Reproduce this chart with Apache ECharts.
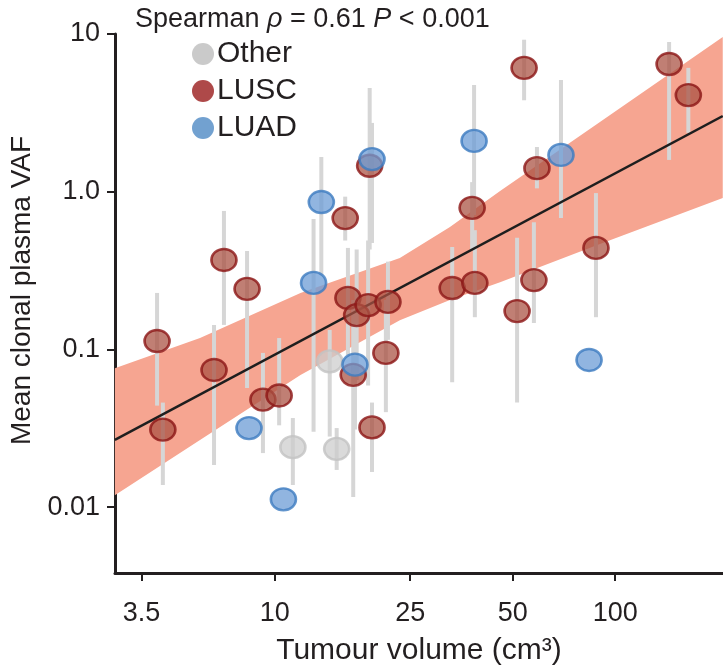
<!DOCTYPE html>
<html>
<head>
<meta charset="utf-8">
<script src="https://cdn.jsdelivr.net/npm/echarts@6/dist/echarts.min.js"></script>
<style>
html, body { margin: 0; padding: 0; background: #fff; }
#chart { width: 723px; height: 671px; }
</style>
</head>
<body>
<div id="chart"></div>
<script>
// tumour volume (cm3) and mean clonal plasma VAF, with error bar ends
var luscVol  = [4.51, 4.69, 7.09, 8.29, 6.63, 9.23, 10.3, 16.1, 16.4, 17.4, 18.8, 19.0, 21.5, 21.2, 17.0, 19.3, 33.2, 38.0, 38.7, 51.5, 57.7, 54.0, 58.9, 87.8, 144, 164];
var luscVaf  = [0.113, 0.031, 0.369, 0.242, 0.074, 0.048, 0.051, 0.68, 0.212, 0.165, 0.191, 1.46, 0.200, 0.095, 0.069, 0.032, 0.245, 0.79, 0.264, 0.175, 0.275, 6.1, 1.41, 0.44, 6.45, 4.1];
var luscLow  = [0.044, 0.0138, 0.143, 0.057, 0.0185, 0.022, 0.033, 0.49, 0.092, 0.064, 0.059, 0.43, 0.115, 0.040, 0.0116, 0.0167, 0.062, 0.43, 0.16, 0.046, 0.147, 3.8, 1.05, 0.16, 1.59, 2.36];
var luscHigh = [0.228, 0.046, 0.755, 0.42, 0.143, 0.095, 0.118, 0.93, 0.44, 0.43, 0.49, 4.55, 0.36, 0.206, 0.206, 0.046, 0.446, 1.15, 0.57, 0.51, 0.64, 9.2, 1.92, 0.98, 8.9, 6.1];

var luadVol  = [13.7, 13.0, 19.3, 38.5, 69.3, 17.2, 8.40, 10.6, 83.8];
var luadVaf  = [0.86, 0.264, 1.61, 2.10, 1.71, 0.080, 0.0317, 0.0112, 0.0857];
var luadLow  = [0.296, 0.030, 0.473, 0.711, 0.681, 0.031, null, null, null];
var luadHigh = [1.66, 0.671, 2.73, 4.75, 5.11, 0.206, null, null, null];

var otherVol  = [14.5, 11.3, 15.2];
var otherVaf  = [0.084, 0.024, 0.0234];
var otherLow  = [0.028, 0.0138, 0.0172];
var otherHigh = [0.133, 0.0367, 0.0317];

// regression line and its confidence band
var fitVol = [3.39, 207];
var fitVaf = [0.0267, 3.02];
var bandVol  = [3.39, 6.03, 11.9, 23.3, 32.7, 45.9, 90.2, 207];
var bandUp   = [0.076, 0.118, 0.228, 0.380, 0.597, 1.01, 2.77, 9.57];
var bandLow  = [0.0119, 0.0266, 0.0689, 0.153, 0.206, 0.267, 0.466, 0.912];

// axis ticks (3.5 sits where the original figure draws it)
var xTicks = [4.06, 10, 25, 50, 100];
var xTickLabels = ['3.5', '10', '25', '50', '100'];
var yTicks = [0.01, 0.1, 1, 10];
var yTickLabels = ['0.01', '0.1', '1.0', '10'];

var FONT = '"Liberation Sans", Arial, Helvetica, sans-serif';
var INK = '#231f20';

function lg(v) { return Math.log10(v); }

function pts(vol, vaf) {
  return vol.map(function (v, i) { return [lg(v), lg(vaf[i])]; });
}

function bars(vol, low, high) {
  var out = [];
  vol.forEach(function (v, i) {
    if (low[i] == null) return;
    out.push([lg(v), lg(low[i]), lg(high[i])]);
  });
  return out;
}

function tickLabel(ticks, labels) {
  return function (val) {
    for (var i = 0; i < ticks.length; i++) {
      if (Math.abs(lg(ticks[i]) - val) < 1e-6) return labels[i];
    }
    return '';
  };
}

var allBars = bars(otherVol, otherLow, otherHigh)
  .concat(bars(luscVol, luscLow, luscHigh))
  .concat(bars(luadVol, luadLow, luadHigh));

var myChart = echarts.init(document.getElementById('chart'));

myChart.setOption({
  animation: false,
  textStyle: { fontFamily: FONT, color: INK },
  title: {
    text: '{a|Spearman }{i|ρ}{a| = 0.61 }{i|P}{a| < 0.001}',
    left: 130,
    top: 1,
    textStyle: {
      rich: {
        a: { fontFamily: FONT, fontSize: 27, fontWeight: 'normal', color: INK },
        i: { fontFamily: FONT, fontSize: 27, fontWeight: 'normal', color: INK, fontStyle: 'italic' }
      }
    }
  },
  legend: {
    orient: 'vertical',
    left: 187,
    top: 34,
    itemGap: 7,
    itemWidth: 24,
    itemHeight: 22,
    icon: 'circle',
    textStyle: { fontFamily: FONT, fontSize: 30, color: INK, padding: [0, 0, 0, -3] },
    data: [
      { name: 'Other', itemStyle: { color: '#bdbdbd', borderWidth: 0 } },
      { name: 'LUSC', itemStyle: { color: '#9a1c1c', borderWidth: 0 } },
      { name: 'LUAD', itemStyle: { color: '#4f8ac4', borderWidth: 0 } }
    ]
  },
  grid: { left: 115, right: 0, top: 34, bottom: 98, outerBoundsMode: 'none' },
  xAxis: {
    type: 'value',
    min: 0.5306,
    max: 2.3167,
    name: 'Tumour volume (cm³)',
    nameLocation: 'middle',
    nameGap: 63,
    nameTextStyle: { fontFamily: FONT, fontSize: 30, color: INK },
    axisLine: { onZero: false, lineStyle: { color: INK, width: 3 } },
    axisTick: { customValues: xTicks.map(lg), length: 8, lineStyle: { color: INK, width: 2 } },
    axisLabel: {
      customValues: xTicks.map(lg),
      formatter: tickLabel(xTicks, xTickLabels),
      margin: 27,
      fontFamily: FONT, fontSize: 27, color: INK
    },
    splitLine: { show: false }
  },
  yAxis: {
    type: 'value',
    min: -2.418,
    max: 1,
    name: 'Mean clonal plasma VAF',
    nameLocation: 'middle',
    nameRotate: 90,
    nameGap: 73,
    nameTextStyle: { fontFamily: FONT, fontSize: 28, color: INK, padding: [0, 0, 0, 26] },
    axisLine: { onZero: false, lineStyle: { color: INK, width: 3 } },
    axisTick: { customValues: yTicks.map(lg), length: 8, lineStyle: { color: INK, width: 2 } },
    axisLabel: {
      customValues: yTicks.map(lg),
      formatter: tickLabel(yTicks, yTickLabels),
      margin: 15,
      fontFamily: FONT, fontSize: 27, color: INK
    },
    splitLine: { show: false }
  },
  series: [
    {
      // confidence band
      type: 'custom',
      silent: true,
      z: 1,
      data: [[0]],
      renderItem: function (params, api) {
        var poly = [];
        for (var i = 0; i < bandVol.length; i++) {
          poly.push(api.coord([lg(bandVol[i]), lg(bandUp[i])]));
        }
        for (var j = bandVol.length - 1; j >= 0; j--) {
          poly.push(api.coord([lg(bandVol[j]), lg(bandLow[j])]));
        }
        return { type: 'polygon', shape: { points: poly }, style: { fill: '#f6a591' } };
      }
    },
    {
      // error bars
      type: 'custom',
      silent: true,
      z: 2,
      encode: { x: 0, y: [1, 2] },
      data: allBars,
      renderItem: function (params, api) {
        var a = api.coord([api.value(0), api.value(1)]);
        var b = api.coord([api.value(0), api.value(2)]);
        return {
          type: 'line',
          shape: { x1: a[0], y1: a[1], x2: b[0], y2: b[1] },
          style: { stroke: '#d6d6d6', lineWidth: 4 }
        };
      }
    },
    {
      type: 'line',
      z: 3,
      silent: true,
      symbol: 'none',
      data: pts(fitVol, fitVaf),
      lineStyle: { color: '#1e1e1e', width: 2.5 }
    },
    {
      name: 'Other',
      type: 'scatter',
      z: 4,
      symbol: 'circle',
      symbolSize: [25, 22],
      data: pts(otherVol, otherVaf),
      itemStyle: { color: 'rgba(205,205,205,0.92)', borderColor: '#c3c3c3', borderWidth: 2.5 }
    },
    {
      name: 'LUSC',
      type: 'scatter',
      z: 4,
      symbol: 'circle',
      symbolSize: [25, 22],
      data: pts(luscVol, luscVaf),
      itemStyle: { color: 'rgba(170,82,66,0.92)', borderColor: '#8c1616', borderWidth: 2.5 }
    },
    {
      name: 'LUAD',
      type: 'scatter',
      z: 4,
      symbol: 'circle',
      symbolSize: [25, 22],
      data: pts(luadVol, luadVaf),
      itemStyle: { color: 'rgba(110,158,214,0.95)', borderColor: '#3d7cc0', borderWidth: 2.5 }
    }
  ]
});
</script>
</body>
</html>
